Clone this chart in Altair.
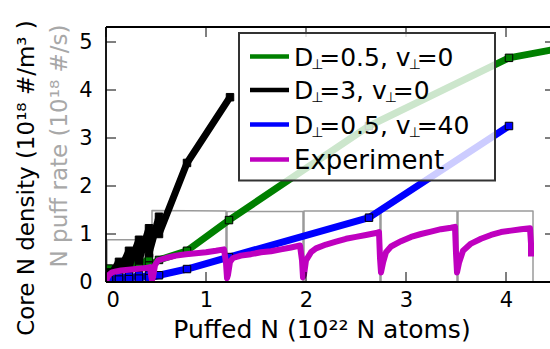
import altair as alt
import pandas as pd

# ---- data -------------------------------------------------------------
# N puff rate (10^18 #/s) vs puffed N
puff_x = [0.01, 0.01, 0.45, 0.45, 0.46, 0.46, 1.20, 1.20, 1.21, 1.21, 1.97, 1.97,
          1.98, 1.98, 2.74, 2.74, 2.75, 2.75, 3.51, 3.51, 3.52, 3.52, 4.27, 4.27]
puff_y = [0.00, 0.88, 0.88, 0.00, 0.00, 1.49, 1.48, 0.00, 0.00, 1.47, 1.47, 0.00,
          0.00, 1.48, 1.48, 0.00, 0.00, 1.48, 1.48, 0.00, 0.00, 1.48, 1.48, 0.00]

# Simulated core N density, D=0.5, v=0
green_x = [0.00, 0.03, 0.03, 0.13, 0.13, 0.23, 0.23, 0.33, 0.33, 0.43, 0.43, 0.53,
           0.81, 1.23, 2.63, 4.03, 4.60]
green_y = [0.00, 0.28, 0.14, 0.36, 0.20, 0.42, 0.25, 0.47, 0.30, 0.50, 0.34, 0.46,
           0.65, 1.29, 3.25, 4.67, 4.89]

# Simulated core N density, D=3, v=0
black_x = [0.00, 0.03, 0.03, 0.13, 0.13, 0.23, 0.23, 0.33, 0.33, 0.43, 0.43, 0.53,
           0.53, 0.81, 1.24]
black_y = [0.00, 0.20, 0.10, 0.42, 0.20, 0.65, 0.32, 0.88, 0.45, 1.12, 0.60, 1.36,
           1.00, 2.48, 3.85]

# Simulated core N density, D=0.5, v=40
blue_x = [0.00, 0.03, 0.03, 0.13, 0.13, 0.23, 0.23, 0.33, 0.33, 0.43, 0.43, 0.53,
          0.81, 1.23, 2.63, 4.03]
blue_y = [0.00, 0.08, 0.04, 0.11, 0.05, 0.13, 0.06, 0.14, 0.07, 0.15, 0.08, 0.14,
          0.27, 0.52, 1.34, 3.25]

# Measured core N density
exp_x = [0.00, 0.01, 0.03, 0.06, 0.10, 0.15, 0.20, 0.25, 0.30, 0.35, 0.40, 0.44,
         0.45, 0.46, 0.47, 0.49,
         0.52, 0.60, 0.70, 0.80, 0.90, 1.00, 1.10, 1.18, 1.20, 1.21, 1.22, 1.24,
         1.27, 1.35, 1.45, 1.55, 1.65, 1.75, 1.85, 1.94, 1.96, 1.97, 1.98, 2.00,
         2.05, 2.10, 2.20, 2.30, 2.40, 2.50, 2.60, 2.70, 2.73, 2.74, 2.75, 2.77,
         2.80, 2.85, 2.95, 3.05, 3.15, 3.25, 3.35, 3.45, 3.49, 3.50, 3.51, 3.53,
         3.57, 3.65, 3.75, 3.85, 3.95, 4.05, 4.15, 4.24, 4.25, 4.25]
exp_y = [0.00, 0.08, 0.15, 0.20, 0.22, 0.24, 0.25, 0.26, 0.27, 0.28, 0.29, 0.31,
         0.15, 0.04, 0.10, 0.35,
         0.45, 0.50, 0.55, 0.58, 0.60, 0.62, 0.65, 0.68, 0.40, 0.08, 0.15, 0.42,
         0.50, 0.55, 0.58, 0.62, 0.64, 0.68, 0.72, 0.76, 0.45, 0.10, 0.15, 0.45,
         0.62, 0.70, 0.78, 0.84, 0.90, 0.94, 0.98, 1.02, 1.04, 0.50, 0.20, 0.40,
         0.62, 0.74, 0.85, 0.94, 1.00, 1.05, 1.10, 1.13, 1.15, 0.60, 0.20, 0.40,
         0.65, 0.80, 0.90, 0.98, 1.04, 1.07, 1.10, 1.12, 0.80, 0.53]

x_ticks = [0, 1, 2, 3, 4]
y_ticks = [0, 1, 2, 3, 4, 5]

W, H = 444, 255
FONT = "DejaVu Sans"
TICK_SIZE = 21

xs = alt.Scale(domain=[0, 4.44], nice=False, zero=False)
ys = alt.Scale(domain=[0, 5.3125], nice=False, zero=False)


def frame(xv, yv):
    return pd.DataFrame({"x": xv, "y": yv, "i": range(len(xv))})


X_AXIS = alt.Axis(values=x_ticks, ticks=False, domain=False, grid=False,
                  labelFontSize=TICK_SIZE, labelFont=FONT, labelColor="black",
                  labelPadding=7, title=None, format="d")
Y_AXIS = alt.Axis(values=y_ticks, ticks=False, domain=False, grid=False,
                  labelFontSize=TICK_SIZE, labelFont=FONT, labelColor="black",
                  labelPadding=14, title=None, format="d")


def xenc():
    return alt.X("x:Q", scale=xs, axis=X_AXIS)


def yenc():
    return alt.Y("y:Q", scale=ys, axis=Y_AXIS)


def series_line(xv, yv, color, width):
    return alt.Chart(frame(xv, yv)).mark_line(
        color=color, strokeWidth=width, clip=True, strokeJoin="round"
    ).encode(x=xenc(), y=yenc(), order="i:Q")


def series_marks(xv, yv, color):
    return alt.Chart(frame(xv, yv)).mark_square(
        color=color, size=56, opacity=1, stroke="black", strokeWidth=1, clip=True
    ).encode(x=xenc(), y=yenc())


puff = series_line(puff_x, puff_y, "#9a9a9a", 1.5)
green = series_line(green_x, green_y, "#008000", 7) + series_marks(green_x, green_y, "#008000")
black = series_line(black_x, black_y, "#000000", 7) + series_marks(black_x, black_y, "#000000")
blue = series_line(blue_x, blue_y, "#0000ff", 7) + series_marks(blue_x, blue_y, "#0000ff")
expt = series_line(exp_x, exp_y, "#bf00bf", 6)

one = pd.DataFrame({"a": [0]})

# Frame (left, top, bottom; right edge lies just past the visible area)
frame_lines = [
    alt.Chart(one).mark_rule(color="black", strokeWidth=1.8).encode(
        x=alt.value(0), y=alt.value(0), y2=alt.value(H)),
    alt.Chart(one).mark_rule(color="black", strokeWidth=1.8).encode(
        x=alt.value(0), x2=alt.value(W + 5), y=alt.value(0)),
    alt.Chart(one).mark_rule(color="black", strokeWidth=1.8).encode(
        x=alt.value(0), x2=alt.value(W + 5), y=alt.value(H)),
]

# Inward-pointing ticks on all four sides
xt = pd.DataFrame({"x": x_ticks})
yt = pd.DataFrame({"y": y_ticks})
ticks = [
    alt.Chart(xt).mark_rule(color="black", strokeWidth=1).encode(
        x=xenc(), y=alt.value(H), y2=alt.value(H - 10)),
    alt.Chart(xt).mark_rule(color="black", strokeWidth=1).encode(
        x=xenc(), y=alt.value(0), y2=alt.value(10)),
    alt.Chart(yt).mark_rule(color="black", strokeWidth=1).encode(
        y=yenc(), x=alt.value(0), x2=alt.value(10)),
    alt.Chart(yt).mark_rule(color="black", strokeWidth=1).encode(
        y=yenc(), x=alt.value(W - 5), x2=alt.value(W + 5)),
]

# ---- legend ----------------------------------------------------------
legend_box = alt.Chart(one).mark_rect(
    fill="white", fillOpacity=0.8, stroke="#333333", strokeWidth=2
).encode(x=alt.value(133), x2=alt.value(389), y=alt.value(6), y2=alt.value(153.5))

leg_colors = ["#008000", "#000000", "#0000ff", "#bf00bf"]
leg_rows = [
    ["D", "_", "=0.5, v", "_", "=0"],
    ["D", "_", "=3, v", "_", "=0"],
    ["D", "_", "=0.5, v", "_", "=40"],
    ["Experiment"],
]
leg_sizes = [25, 25, 25, 26]
SUB_SIZE = 14
SUB_ADV = 6
ADV = {"D": 0.770, "=": 0.838, ".": 0.318, ",": 0.318, " ": 0.318, "v": 0.592}
for d in "0123456789":
    ADV[d] = 0.636

leg_layers = []
row_base = [38.5, 72, 106.5, 141.5]
for k, (color, parts) in enumerate(zip(leg_colors, leg_rows)):
    yc = row_base[k] - 9
    fs = leg_sizes[k]
    leg_layers.append(
        alt.Chart(one).mark_rule(color=color, strokeWidth=4.5).encode(
            x=alt.value(144), x2=alt.value(183), y=alt.value(yc)))
    px = 188.0
    for part in parts:
        if part == "_":
            leg_layers.append(
                alt.Chart(one).mark_text(
                    text="⊥", font=FONT, fontSize=SUB_SIZE, align="left",
                    baseline="alphabetic", color="black"
                ).encode(x=alt.value(px - 2), y=alt.value(row_base[k] + 3)))
            px += SUB_ADV
        else:
            leg_layers.append(
                alt.Chart(one).mark_text(
                    text=part, font=FONT, fontSize=fs, align="left",
                    baseline="alphabetic", color="black"
                ).encode(x=alt.value(px), y=alt.value(row_base[k])))
            px += sum(ADV.get(c, 0.6) for c in part) * fs

# ---- axis titles -----------------------------------------------------
titles = [
    alt.Chart(one).mark_text(
        text="Puffed N (10²²  N atoms)", font=FONT, fontSize=25, align="center",
        baseline="middle", color="black"
    ).encode(x=alt.value(216), y=alt.value(303)),
    alt.Chart(one).mark_text(
        text="Core N density (10¹⁸ #/m³ )", font=FONT, fontSize=23, align="center",
        baseline="middle", angle=270, color="black"
    ).encode(x=alt.value(-79), y=alt.value(151)),
    alt.Chart(one).mark_text(
        text="N puff rate (10¹⁸ #/s)", font=FONT, fontSize=23, align="center",
        baseline="middle", angle=270, color="#a8a8a8"
    ).encode(x=alt.value(-46), y=alt.value(119)),
]

chart = alt.layer(
    puff, green, black, blue, expt,
    *frame_lines, *ticks, legend_box, *leg_layers, *titles
).properties(
    width=W, height=H,
    autosize=alt.AutoSizeParams(type="none"),
    padding={"left": 106, "top": 27, "right": 0, "bottom": 67},
).configure_view(stroke=None).configure(background="white")

chart.save("out.html", embed_options={"renderer": "svg", "actions": False})
